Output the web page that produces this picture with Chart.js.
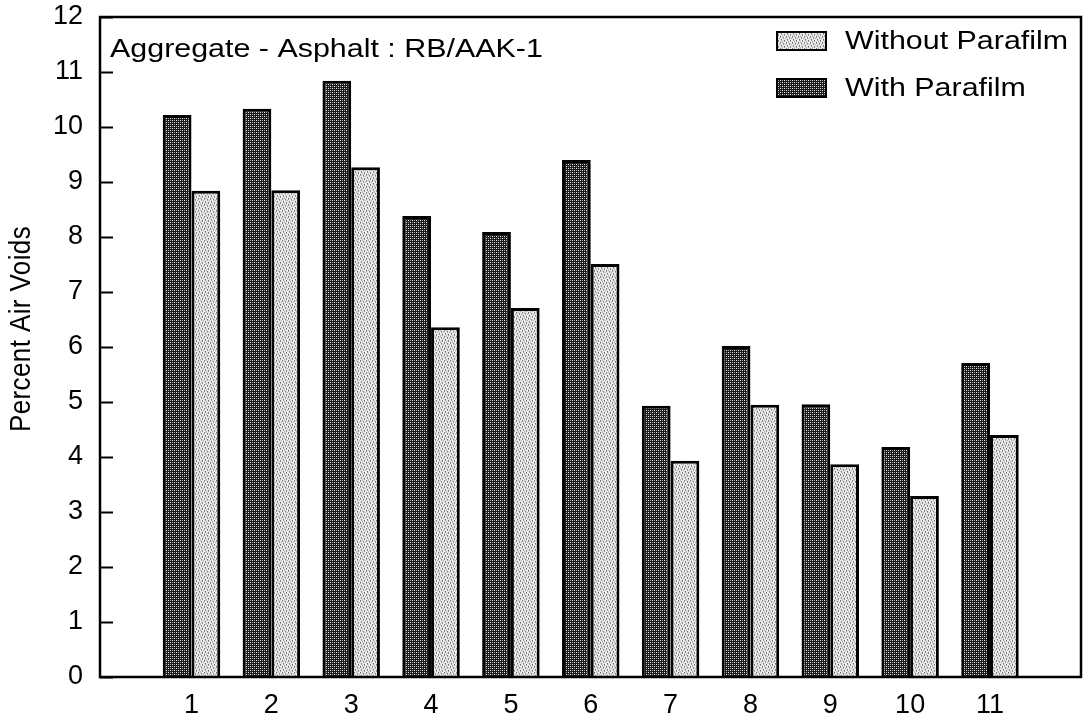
<html><head><meta charset="UTF-8">
<title>Percent Air Voids</title>
<script src="https://cdn.jsdelivr.net/npm/chart.js"></script>
<style>
* { margin: 0; padding: 0; }
body { background: #fff; }
#wrap { width: 1085px; height: 724px; }
</style>
</head>
<body>
<div id="wrap"><canvas id="voidsChart" width="1085" height="724"></canvas></div>
<script>
const samples = [1, 2, 3, 4, 5, 6, 7, 8, 9, 10, 11];
const withParafilm = [10.22, 10.33, 10.84, 8.38, 8.09, 9.40, 4.93, 6.02, 4.96, 4.18, 5.71];
const withoutParafilm = [8.84, 8.85, 9.27, 6.36, 6.71, 7.51, 3.93, 4.95, 3.87, 3.29, 4.40];
const yTicks = [0, 1, 2, 3, 4, 5, 6, 7, 8, 9, 10, 11, 12];
const mixLabel = 'Aggregate - Asphalt : RB/AAK-1';
const yTitle = 'Percent Air Voids';

const FONT = "'Liberation Sans', Arial, Helvetica, sans-serif";
const WIDE = 1.17; // the lettering is a bit wider than plain Arial

// halftone fills, like the old printed shading
function makePattern(size, bg, dots) {
    const c = document.createElement('canvas');
    c.width = size; c.height = size;
    const g = c.getContext('2d');
    g.fillStyle = bg;
    g.fillRect(0, 0, size, size);
    dots.forEach(d => {
        g.fillStyle = d[2];
        g.fillRect(d[0], d[1], 1, 1);
    });
    return g.createPattern(c, 'repeat');
}
const ctx = document.getElementById('voidsChart').getContext('2d');
const darkFill = makePattern(4, '#1a1a1a', [[0, 0, '#f4f4f4'], [2, 2, '#f4f4f4'], [2, 0, '#9a9a9a'], [0, 2, '#9a9a9a']]);
// speckled light grey, loosely streaked up and down
const lightFill = makePattern(6, '#e6e6e6', [
    [0, 0, '#6e6e6e'], [0, 1, '#9c9c9c'], [3, 1, '#7a7a7a'], [3, 2, '#a4a4a4'],
    [1, 3, '#747474'], [1, 4, '#a0a0a0'], [4, 4, '#6c6c6c'], [4, 5, '#9a9a9a'],
    [2, 0, '#b8b8b8'], [5, 2, '#b0b0b0'], [2, 5, '#bcbcbc'], [5, 0, '#fafafa'],
    [2, 2, '#fafafa'], [5, 4, '#fafafa']
]);

const toPoints = vals => vals.map((v, i) => ({ x: samples[i], y: v }));

function wideText(ctx, text, x, y) {
    ctx.save();
    ctx.translate(x, y);
    ctx.scale(WIDE, 1);
    ctx.fillText(text, 0, 0);
    ctx.restore();
}

const framePlugin = {
    id: 'frame',
    afterDatasetsDraw(chart) {
        const { ctx, chartArea: a, scales } = chart;
        ctx.save();
        ctx.strokeStyle = '#000';
        ctx.lineWidth = 2.5;
        ctx.strokeRect(a.left, a.top, a.right - a.left, a.bottom - a.top);
        // tick marks point inward from the left axis
        ctx.lineWidth = 2;
        yTicks.forEach(t => {
            const y = Math.round(scales.y.getPixelForValue(t)) + 0.5;
            ctx.beginPath();
            ctx.moveTo(a.left, y);
            ctx.lineTo(a.left + 13, y);
            ctx.stroke();
        });
        ctx.restore();
    },
    afterDraw(chart) {
        const { ctx, chartArea: a } = chart;
        ctx.save();
        ctx.fillStyle = '#000';
        ctx.font = '26px ' + FONT;

        // axis title, rotated
        ctx.save();
        ctx.translate(22, (a.top + a.bottom) / 2 - 18);
        ctx.scale(WIDE, 1);
        ctx.rotate(-Math.PI / 2);
        ctx.textAlign = 'center';
        ctx.textBaseline = 'middle';
        ctx.letterSpacing = '0.4px';
        ctx.fillText(yTitle, 0, 0);
        ctx.restore();

        ctx.textBaseline = 'alphabetic';
        ctx.textAlign = 'left';
        wideText(ctx, mixLabel, a.left + 10, a.top + 40);

        // legend lists the lighter series first
        const items = chart.data.datasets.slice().reverse();
        items.forEach((ds, i) => {
            const cy = a.top + 24 + i * 47;
            const bx = a.right - 304;
            ctx.fillStyle = ds.backgroundColor;
            ctx.fillRect(bx, cy - 9, 49, 18);
            ctx.strokeStyle = '#000';
            ctx.lineWidth = 2;
            ctx.strokeRect(bx, cy - 9, 49, 18);
            ctx.fillStyle = '#000';
            ctx.textBaseline = 'middle';
            wideText(ctx, ds.label, bx + 68, cy + 1);
        });
        ctx.restore();
    }
};

new Chart(ctx, {
    type: 'bar',
    data: {
        datasets: [
            {
                label: 'With Parafilm',
                data: toPoints(withParafilm),
                backgroundColor: darkFill,
                borderColor: '#000',
                borderWidth: 3
            },
            {
                label: 'Without Parafilm',
                data: toPoints(withoutParafilm),
                backgroundColor: lightFill,
                borderColor: '#000',
                borderWidth: 3
            }
        ]
    },
    options: {
        responsive: false,
        animation: false,
        layout: { padding: { left: 0, right: 4, top: 17, bottom: 0 } },
        datasets: {
            bar: { categoryPercentage: 0.72, barPercentage: 1.0 }
        },
        plugins: {
            legend: { display: false },
            tooltip: { enabled: false }
        },
        scales: {
            x: {
                type: 'linear',
                offset: false,
                min: -0.146,
                max: 12.14,
                grid: { display: false, drawTicks: false },
                border: { display: false },
                afterBuildTicks: axis => { axis.ticks = samples.map(v => ({ value: v })); },
                afterFit: axis => {
                    axis.height = 47;
                    axis.paddingLeft = 0;
                    axis.paddingRight = 0;
                },
                ticks: {
                    autoSkip: false,
                    maxRotation: 0,
                    padding: 12,
                    color: '#000',
                    font: { family: FONT, size: 27 },
                    callback: v => String(v)
                }
            },
            y: {
                min: 0,
                max: 12,
                grid: { display: false, drawTicks: false },
                border: { display: false },
                afterBuildTicks: axis => { axis.ticks = yTicks.map(v => ({ value: v })); },
                afterFit: axis => {
                    axis.width = 100;
                    axis.paddingTop = 0;
                    axis.paddingBottom = 0;
                },
                ticks: {
                    padding: 17,
                    color: '#000',
                    font: { family: FONT, size: 27 }
                }
            }
        }
    },
    plugins: [framePlugin]
});
</script>
</body></html>
